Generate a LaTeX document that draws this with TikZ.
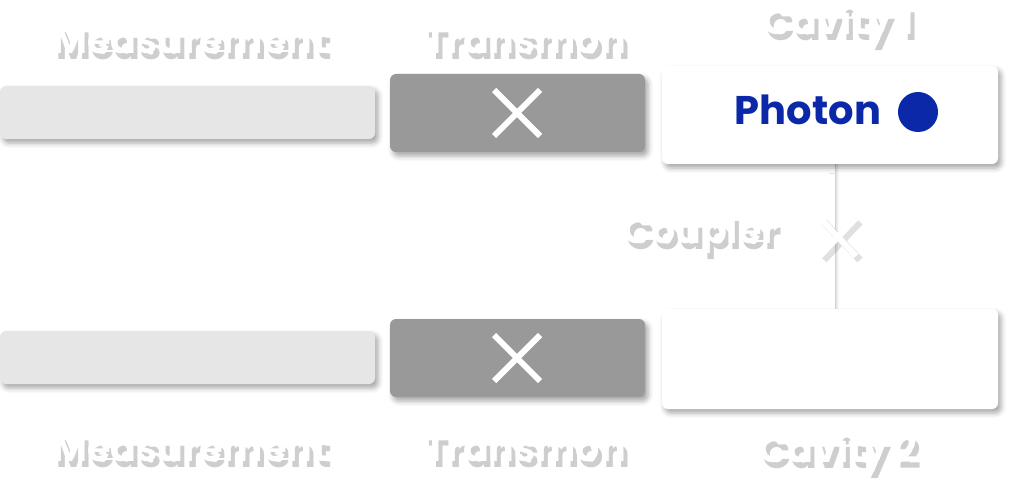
\documentclass[tikz,border=0pt]{standalone}
\usepackage{fontspec}
\setmainfont{Poppins}
\usetikzlibrary{shadows.blur,calc}
\definecolor{bar}{HTML}{E6E6E6}
\definecolor{trans}{HTML}{999999}
\definecolor{photon}{HTML}{0A28A8}
\tikzset{
  sh/.style={blur shadow={shadow xshift=3pt,shadow yshift=-4pt,shadow blur radius=5pt,shadow opacity=35}},
  barbox/.style={fill=bar,rounded corners=6pt,sh},
  transbox/.style={fill=trans,rounded corners=6pt,sh},
  cavbox/.style={fill=white,rounded corners=6pt,sh},
  xmark/.style={draw=white,line width=6pt},
  lbl/.style={font=\fontsize{38}{40}\selectfont\bfseries,text=white}
}
\newcommand{\shtext}[3]{%
  \node[lbl,text=black!55,opacity=0.35] at (#1+4,#2+6) {#3};
  \node[lbl] at (#1,#2) {#3};}
\begin{document}
\begin{tikzpicture}[x=1pt,y=-1pt]
\useasboundingbox (0,0) rectangle (1024,494);
\draw[draw=white,line width=6pt,blur shadow={shadow xshift=3pt,shadow yshift=-4pt,shadow blur radius=4pt,shadow opacity=35}] (832,160) -- (832,312);
\fill[white] (829,160) rectangle (835,312);
\path[barbox] (0,86) rectangle (375,139);
\path[barbox] (0,331) rectangle (375,384);
\path[transbox] (390,74) rectangle (645,152);
\path[transbox] (390,319) rectangle (645,397);
\path[cavbox] (662,66) rectangle (998,164);
\path[cavbox] (662,309) rectangle (998,409);
\foreach \cx/\cy in {517/113,517/358}{
  \draw[xmark] (\cx-23,\cy-23) -- (\cx+23,\cy+23) (\cx-23,\cy+23) -- (\cx+23,\cy-23);}
\draw[draw=black,opacity=0.12,line width=7pt] (824,222) -- (860,260) (824,260) -- (860,222);
\draw[xmark] (820,218) -- (856,256) (820,256) -- (856,218);
\node[font=\fontsize{40}{42}\selectfont\bfseries,text=photon] (ph) at (808,110) {Photon};
\fill[photon] (918,112) circle (20);
\shtext{190}{40}{Measurement}
\shtext{525}{40}{Transmon}
\shtext{838}{24}{Cavity 1}
\shtext{700}{234}{Coupler}
\shtext{190}{448}{Measurement}
\shtext{525}{448}{Transmon}
\shtext{838}{452}{Cavity 2}
\end{tikzpicture}
\end{document}
